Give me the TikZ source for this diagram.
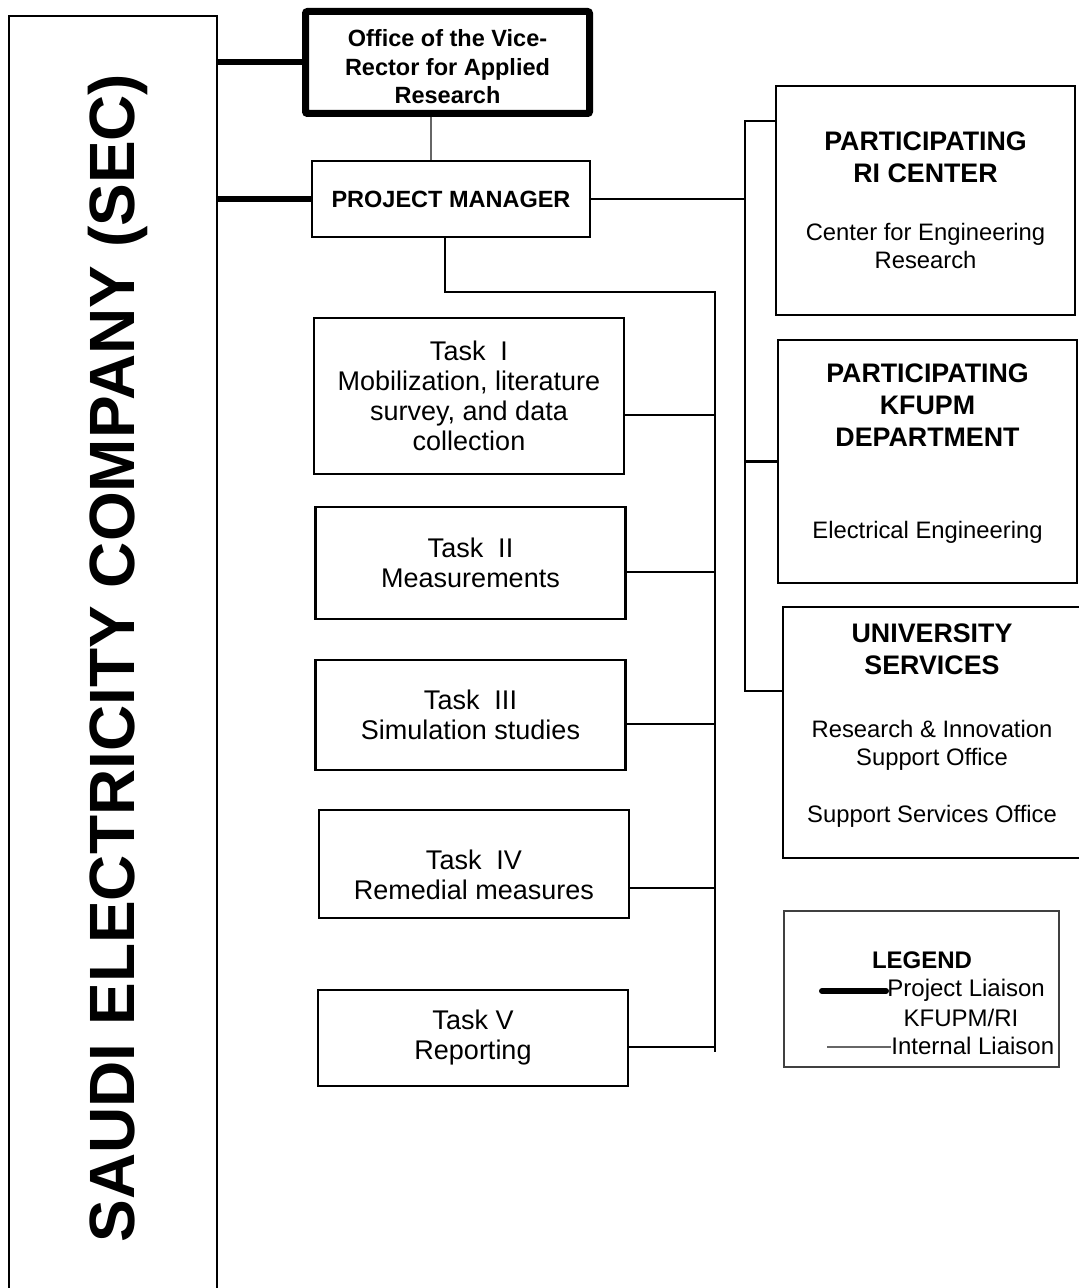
\documentclass[tikz,border=0pt]{standalone}
\usepackage{fontspec}
\setmainfont{Liberation Sans}

\newcommand{\unithead}[1]{{\fontsize{13.4}{16}\selectfont\bfseries #1}}

\begin{document}
\begin{tikzpicture}[x=0.5pt, y=-0.5pt,
  box/.style={draw, line width=1.2pt, align=center, inner sep=2pt},
  secbox/.style={box, minimum width=104pt, minimum height=642pt, font=\fontsize{32}{36}\selectfont\bfseries},
  vrbox/.style={box, line width=3.5pt, rounded corners=1pt, minimum width=142pt, minimum height=51pt, font=\fontsize{11.75}{14.25}\selectfont\bfseries},
  pmbox/.style={box, minimum width=139pt, minimum height=38pt, font=\fontsize{11.75}{14}\selectfont\bfseries},
  taskbox/.style={box, minimum width=155pt, font=\fontsize{13.5}{15}\selectfont},
  unitbox/.style={box, minimum width=149.5pt, font=\fontsize{11.9}{14}\selectfont},
  legbox/.style={draw=black!75, line width=0.6pt, minimum width=137.5pt, minimum height=78pt},
  legtext/.style={inner sep=0pt, font=\fontsize{12}{14}\selectfont},
  link/.style={line width=1.2pt},
  liaison/.style={line width=3pt},
  internal/.style={line width=0.6pt, draw=black!60}
]
  \useasboundingbox (0,0) rectangle (1079,1288);

  \node[secbox] (sec) at (113,658) {\hspace{5pt}\rotatebox{90}{SAUDI ELECTRICITY COMPANY (SEC)}};
  \node[vrbox, text height=41.5pt] (office) at (447.5,62.5) {Office of the Vice-\\Rector for Applied\\Research};
  \node[pmbox] (pm) at (451,199) {PROJECT MANAGER};

  \node[taskbox, minimum height=78pt] (t1) at (469,396)
    {Task\ \ I\\Mobilization, literature\\survey, and data\\collection};
  \node[taskbox, minimum height=56pt] (t2) at (470.5,563) {Task\ \ II\\Measurements};
  \node[taskbox, minimum height=55pt] (t3) at (470.5,715) {Task\ \ III\\Simulation studies};
  \node[taskbox, minimum height=54pt, text height=36pt] (t4) at (474,864) {Task\ \ IV\\Remedial measures};
  \node[taskbox, minimum height=48pt] (t5) at (473,1038) {Task V\\Reporting};

  \node[unitbox, minimum height=114.5pt] (ri) at (925.5,200.5)
    {\unithead{PARTICIPATING}\\[2pt]\unithead{RI CENTER}\\[15pt]Center for Engineering\\Research};
  \node[unitbox, minimum height=121.5pt, text depth=10.5pt] (kfupm) at (927.5,461.5)
    {\unithead{PARTICIPATING}\\[2pt]\unithead{KFUPM}\\[2pt]\unithead{DEPARTMENT}\\[32pt]Electrical Engineering};
  \node[unitbox, minimum width=149pt, minimum height=125.5pt, text depth=9.5pt] (univ) at (932,732.5)
    {\unithead{UNIVERSITY}\\[2pt]\unithead{SERVICES}\\[17.5pt]Research \& Innovation\\Support Office\\[14.5pt]Support Services Office};

  \node[legbox] (legend) at (921.5,989) {};
  \node[legtext, font=\fontsize{12}{14}\selectfont\bfseries] (legtitle) at (922,960) {LEGEND};
  \node[legtext, anchor=mid west] (legproj) at (887,991) {Project Liaison};
  \node[legtext] (legkfupm) at (961,1018) {KFUPM/RI};
  \node[legtext, anchor=mid west] (legint) at (891,1049) {Internal Liaison};
  \draw[liaison, line cap=round] ([xshift=-0.5pt]legproj.west |- 0,991) -- (822,991);
  \draw[internal] (legint.west |- 0,1047) -- (827,1047);

  \coordinate (taskbus) at (715,292);
  \coordinate (taskend) at (715,1052);
  \coordinate (unitbus) at (745,121);
  \coordinate (unitend) at (745,691);

  \draw[liaison] (office.west -| sec.east) -- (office.west);
  \draw[liaison] (pm.west -| sec.east) -- (pm.west);
  \draw[internal] ([xshift=-8.25pt]office.south) -- ([xshift=-10pt]pm.north);

  \draw[link] ([xshift=-3pt]pm.south) |- (taskbus) -- (taskend);
  \foreach \i/\y in {1/415, 2/572, 3/724, 4/888, 5/1047} {
    \coordinate (tap\i) at (715,\y);
    \draw[link] (t\i.east |- tap\i) -- (tap\i);
  }

  \draw[link] (pm.east) -- (pm.east -| unitbus);
  \draw[link] (ri.west |- unitbus) -- (unitbus) -- (unitend) -- (unitend -| univ.west);
  \draw[link] (kfupm.west -| unitbus) -- (kfupm.west);
\end{tikzpicture}
\end{document}
